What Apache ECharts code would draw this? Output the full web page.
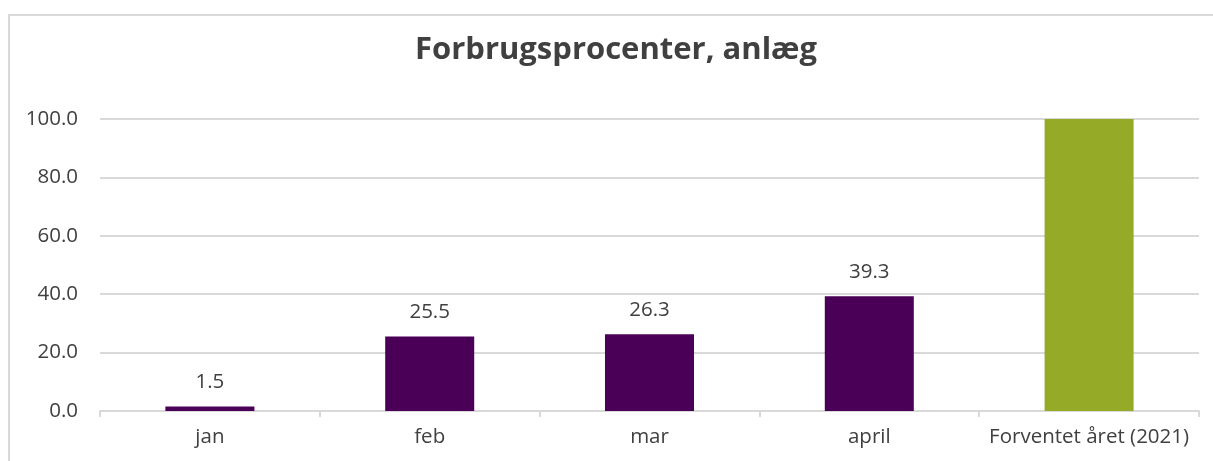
<!DOCTYPE html>
<html>
<head>
<meta charset="utf-8">
<script src="https://cdn.jsdelivr.net/npm/echarts@6/dist/echarts.min.js"></script>
<style>
  html, body { margin: 0; padding: 0; background: #fff; }
  #chart { width: 1213px; height: 461px; }
</style>
</head>
<body>
<div id="chart"></div>
<script>
const categories = ['jan', 'feb', 'mar', 'april', 'Forventet året (2021)'];
const values = [1.5, 25.5, 26.3, 39.3, 100];
const yTicks = [0, 20, 40, 60, 80, 100];

const purple = '#4a0057';
const green = '#95ab28';

const chart = echarts.init(document.getElementById('chart'));

var option = {
    backgroundColor: '#fff',
    textStyle: { fontFamily: 'Open Sans' },
    title: {
        text: 'Forbrugsprocenter, anlæg',
        left: 415,
        top: 35,
        padding: 0,
        textStyle: { fontSize: 31, fontWeight: 'bold', color: '#404040', fontFamily: 'Open Sans' }
    },
    graphic: [{
        type: 'rect',
        shape: { x: 9, y: 15, width: 1220, height: 470 },
        style: { fill: null, stroke: '#d9d9d9', lineWidth: 2 },
        z: 100,
        silent: true
    }],
    grid: { left: 100, right: 14, top: 119, bottom: 50 },
    xAxis: {
        type: 'category',
        data: categories,
        axisLine: { lineStyle: { color: '#d9d9d9', width: 2 } },
        axisTick: { show: true, length: 6, lineStyle: { color: '#d9d9d9', width: 2 } },
        axisLabel: { color: '#404040', fontSize: 20.5, margin: 16, interval: 0 }
    },
    yAxis: {
        type: 'value',
        min: yTicks[0],
        max: yTicks[yTicks.length - 1],
        interval: 20,
        axisLine: { show: false },
        axisTick: { show: false },
        axisLabel: {
            color: '#404040', fontSize: 20.5, margin: 22,
            formatter: v => v.toFixed(1)
        },
        splitLine: { lineStyle: { color: '#d9d9d9', width: 2 } }
    },
    series: [{
        type: 'bar',
        barWidth: '40.5%',
        data: values.map((v, i) => ({
            value: v,
            itemStyle: { color: i === values.length - 1 ? green : purple },
            label: { show: i !== values.length - 1 }
        })),
        label: {
            show: true,
            position: 'top',
            distance: 14,
            color: '#404040',
            fontSize: 20.5,
            formatter: p => p.value.toFixed(1)
        }
    }]
};
chart.setOption(option);
</script>
</body>
</html>
